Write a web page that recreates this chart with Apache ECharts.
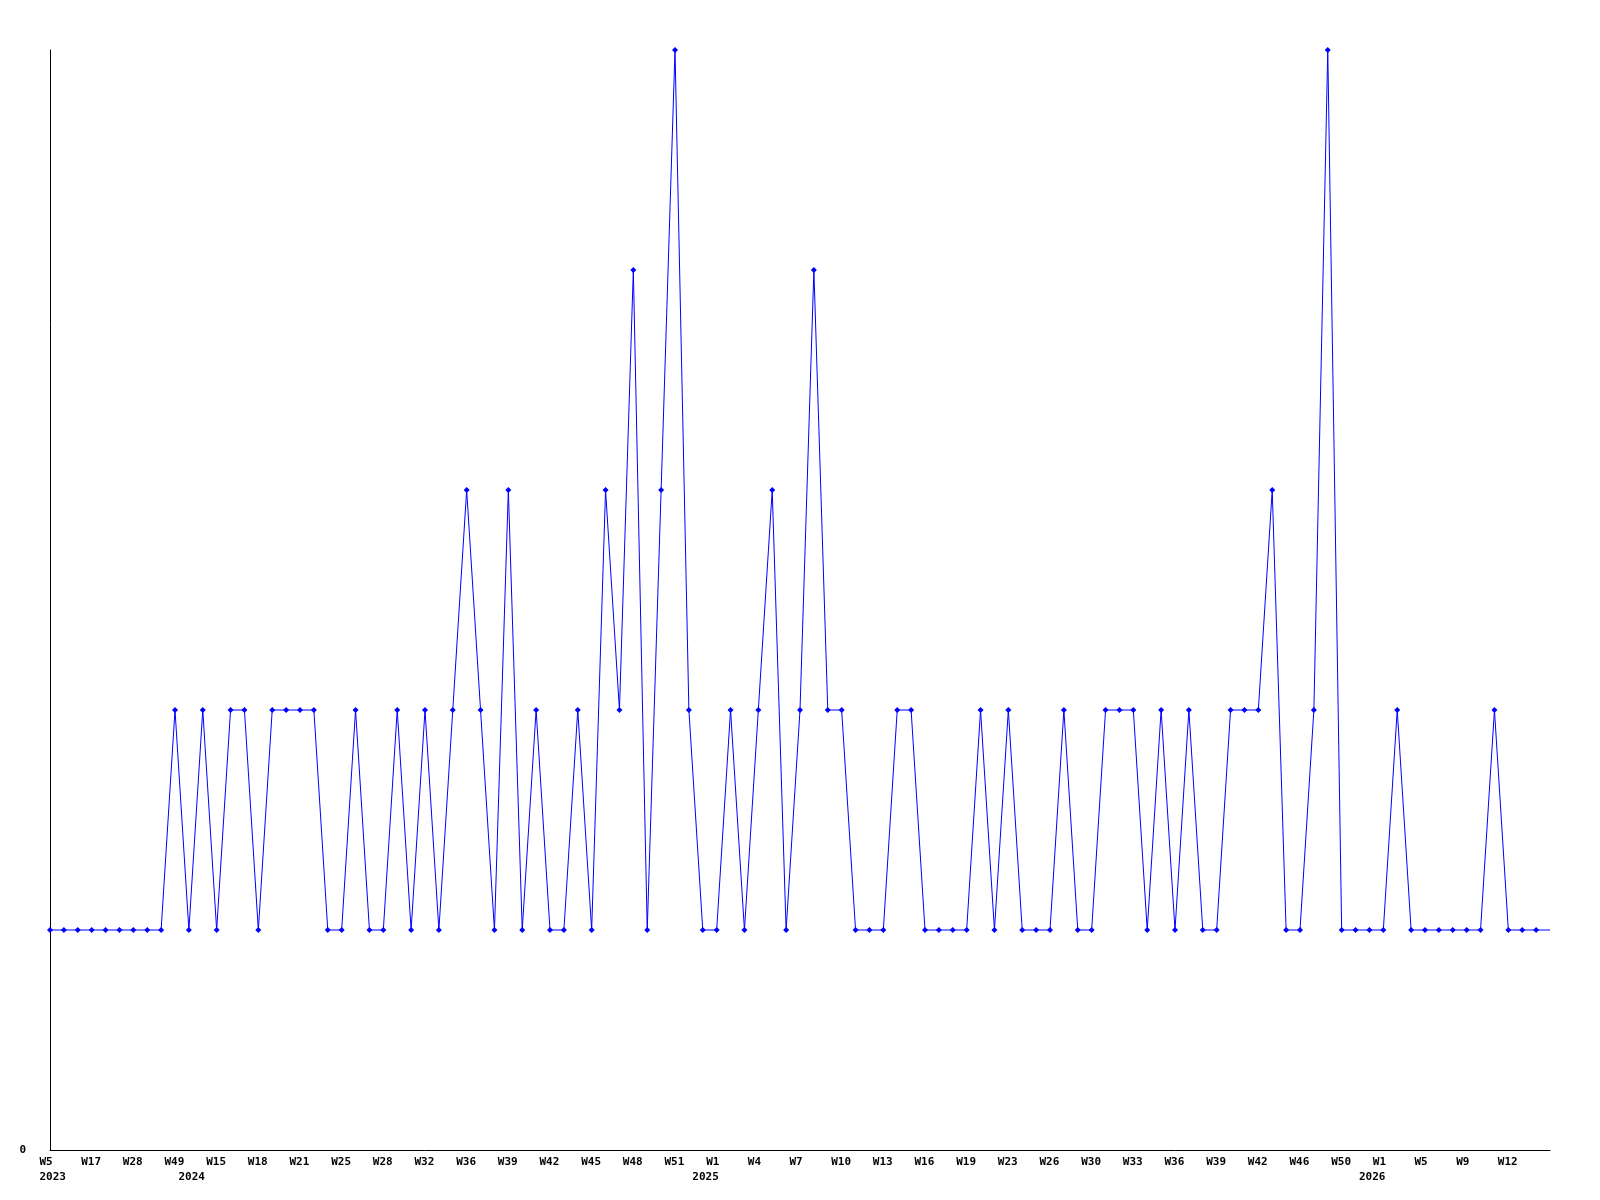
<!DOCTYPE html>
<html>
<head>
<meta charset="utf-8">
<script src="https://cdn.jsdelivr.net/npm/echarts@6/dist/echarts.min.js"></script>
<style>
  html, body { margin: 0; padding: 0; background: #ffffff; }
  #chart { width: 1600px; height: 1200px; }
</style>
</head>
<body>
<div id="chart"></div>
<script>
// Values per data point (109 points)
const values = [
  1, 1, 1, 1, 1, 1, 1, 1, 1, 2,
  1, 2, 1, 2, 2, 1, 2, 2, 2, 2,
  1, 1, 2, 1, 1, 2, 1, 2, 1, 2,
  3, 2, 1, 3, 1, 2, 1, 1, 2, 1,
  3, 2, 4, 1, 3, 5, 2, 1, 1, 2,
  1, 2, 3, 1, 2, 4, 2, 2, 1, 1,
  1, 2, 2, 1, 1, 1, 1, 2, 1, 2,
  1, 1, 1, 2, 1, 1, 2, 2, 2, 1,
  2, 1, 2, 1, 1, 2, 2, 2, 3, 1,
  1, 2, 5, 1, 1, 1, 1, 2, 1, 1,
  1, 1, 1, 1, 2, 1, 1, 1, 1
];
// Week tick labels, one for every third point
const weekTicks = [
  'W5', 'W17', 'W28', 'W49', 'W15', 'W18', 'W21', 'W25', 'W28', 'W32',
  'W36', 'W39', 'W42', 'W45', 'W48', 'W51', 'W1', 'W4', 'W7', 'W10',
  'W13', 'W16', 'W19', 'W23', 'W26', 'W30', 'W33', 'W36', 'W39', 'W42',
  'W46', 'W50', 'W1', 'W5', 'W9', 'W12'
];
const weekTickStep = 3;
// Year labels and the point index where each year starts
const yearTickIndex = [0, 10, 47, 95];
const yearTickText = ['2023', '2024', '2025', '2026'];

const categories = values.map((v, i) => String(i));

const fontFamily = '"DejaVu Sans Mono", "Liberation Mono", monospace';
const labelStyle = { fontFamily: fontFamily, fontWeight: 'bold', fontSize: 11, color: '#000', lineHeight: 15, width: 21, align: 'left' };

function weekFor(i) {
  if (i % weekTickStep !== 0) return null;
  const k = i / weekTickStep;
  return k < weekTicks.length ? weekTicks[k] : null;
}
function yearFor(i) {
  const k = yearTickIndex.indexOf(i);
  return k >= 0 ? yearTickText[k] : null;
}

const chart = echarts.init(document.getElementById('chart'), null, { renderer: 'canvas' });
chart.setOption({
  animation: false,
  backgroundColor: '#ffffff',
  grid: { left: 50, right: 50, top: 50, bottom: 50, containLabel: false },
  xAxis: {
    type: 'category',
    data: categories,
    boundaryGap: false,
    axisLine: { show: true, lineStyle: { color: '#000', width: 1 } },
    axisTick: { show: false },
    splitLine: { show: false },
    axisLabel: {
      show: true,
      margin: 5,
      hideOverlap: false,
      interval: function (i) { return weekFor(i) !== null || yearFor(i) !== null; },
      formatter: function (val, i) {
        const w = weekFor(i);
        const y = yearFor(i);
        let s = '{w|' + (w !== null ? w : ' ') + '}';
        if (y !== null) s += '\n{y|' + y + '}';
        return s;
      },
      rich: { w: labelStyle, y: labelStyle }
    }
  },
  yAxis: {
    type: 'value',
    min: 0,
    max: 5,
    interval: 1,
    axisLine: { show: true, lineStyle: { color: '#000', width: 1 } },
    axisTick: { show: false },
    splitLine: { show: false },
    axisLabel: {
      show: true,
      margin: 24,
      fontFamily: fontFamily,
      fontWeight: 'bold',
      fontSize: 11,
      color: '#000',
      formatter: function (v) { return v === 0 ? '0' : ''; }
    }
  },
  series: [{
    type: 'line',
    data: values,
    symbol: 'diamond',
    symbolSize: function (v, p) { return p.dataIndex === values.length - 1 ? 0 : 6; },
    showAllSymbol: true,
    lineStyle: { color: '#0000ff', width: 1 },
    itemStyle: { color: '#0000ff' },
    clip: false
  }]
});
</script>
</body>
</html>
